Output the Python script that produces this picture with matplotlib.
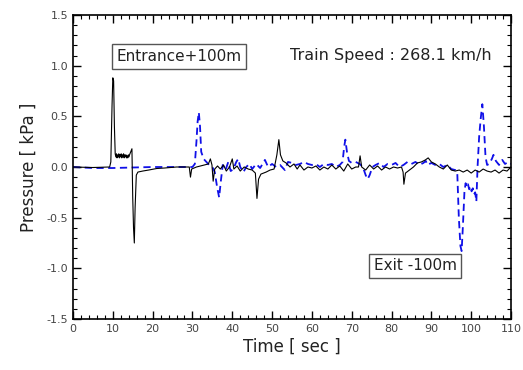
import matplotlib
matplotlib.use("Agg")
import matplotlib.pyplot as plt
from matplotlib.ticker import MultipleLocator

# Entrance +100m (black solid): (time s, pressure kPa)
entrance_points = [
    (0, 0.0), (5, -0.005), (9.2, 0.0), (9.5, 0.05), (9.8, 0.6), (10.0, 0.88), (10.2, 0.85),
    (10.4, 0.4), (10.6, 0.13), (10.75, 0.1), (10.9, 0.13), (11.05, 0.09), (11.2, 0.12),
    (11.35, 0.1), (11.5, 0.13), (11.65, 0.09), (11.8, 0.12), (11.95, 0.1), (12.1, 0.13),
    (12.25, 0.09), (12.4, 0.12), (12.55, 0.1), (12.7, 0.13), (12.85, 0.09), (13.0, 0.12),
    (13.15, 0.1), (13.3, 0.12), (13.45, 0.09), (13.6, 0.11), (13.75, 0.09), (13.9, 0.12),
    (14.05, 0.1), (14.2, 0.12), (14.5, 0.15), (14.8, 0.18), (15.0, -0.3), (15.2, -0.6),
    (15.4, -0.75), (15.6, -0.4), (15.9, -0.08), (16.3, -0.05), (17.5, -0.04), (19, -0.03),
    (21, -0.015), (23, -0.01), (26, 0.0), (29.2, 0.0), (29.5, -0.1), (29.8, -0.02),
    (31, 0.0), (32, 0.01), (33, 0.02), (34, 0.03), (34.5, 0.08), (34.9, 0.02), (35.2, -0.14),
    (35.6, -0.02), (36.3, 0.01), (37, -0.02), (37.8, 0.02), (38.5, -0.04), (39.3, 0.0),
    (40.0, 0.08), (40.4, -0.02), (41.2, 0.01), (42, -0.04), (43, 0.0), (44, -0.02),
    (45, -0.03), (45.8, -0.06), (46.2, -0.31), (46.6, -0.12), (47.2, -0.07), (48.5, -0.05),
    (49.5, -0.03), (50.5, -0.02), (51.2, 0.12), (51.7, 0.27), (52.1, 0.12), (52.7, 0.06),
    (53.5, 0.04), (54.5, 0.0), (55.5, 0.03), (56.3, -0.02), (57, 0.02), (58, -0.03),
    (59, 0.0), (60, -0.01), (61, 0.01), (62, -0.03), (63, 0.0), (64, -0.02), (65, 0.02),
    (66, -0.02), (67, 0.01), (68, -0.04), (69, 0.03), (70, -0.02), (71, 0.0), (71.7, 0.0),
    (72.1, 0.11), (72.5, 0.0), (73.5, -0.03), (74.5, 0.02), (75.5, -0.02), (76.5, 0.01),
    (77.5, -0.03), (78.5, 0.0), (79.5, -0.02), (80.5, 0.0), (81.5, -0.01), (82.5, 0.0),
    (82.9, -0.05), (83.1, -0.17), (83.5, -0.06), (84.5, -0.03), (85.5, 0.0), (86.5, 0.04),
    (87.5, 0.05), (88.5, 0.07), (89.2, 0.09), (90, 0.05), (91, 0.03), (92, 0.0),
    (93, -0.02), (94, 0.02), (95, -0.03), (96, -0.04), (97, -0.03), (98, -0.05), (99, -0.03),
    (100, -0.06), (101, -0.03), (102, -0.05), (103, -0.02), (104, -0.04), (105, -0.05),
    (106, -0.03), (107, -0.06), (108, -0.03), (109, -0.04), (110, 0.0),
]

# Exit -100m (blue dashed): (time s, pressure kPa)
exit_points = [
    (0, 0.0), (5, -0.01), (10, -0.01), (15, -0.005), (20, 0.0), (25, 0.0), (30, 0.0),
    (30.6, 0.03), (31.0, 0.25), (31.3, 0.45), (31.6, 0.54), (31.9, 0.4), (32.2, 0.15),
    (32.8, 0.08), (33.5, 0.05), (34.2, 0.02), (35, 0.0), (35.6, -0.05), (36.2, -0.2),
    (36.7, -0.30), (37.1, -0.15), (37.6, 0.02), (38.3, -0.03), (39.0, 0.05), (39.6, -0.04),
    (40.3, -0.02), (41.0, 0.05), (41.5, 0.08), (42, 0.0), (42.8, -0.05), (43.5, 0.0),
    (44.3, 0.03), (45, -0.02), (46, 0.03), (47, -0.01), (48.2, 0.07), (49, 0.0), (50, 0.03),
    (51, 0.0), (52, 0.02), (53.2, -0.03), (54, 0.05), (55, 0.04), (56, 0.02), (57, 0.03),
    (58, 0.05), (59, 0.03), (60, 0.02), (61, 0.03), (62, 0.0), (63, 0.03), (64, 0.02),
    (65, 0.03), (66, 0.0), (67, 0.02), (67.7, 0.05), (68.1, 0.2), (68.4, 0.27), (68.8, 0.15),
    (69.3, 0.06), (70, 0.04), (71, 0.05), (72, 0.03), (72.8, 0.0), (73.5, -0.08),
    (74.0, -0.12), (74.5, -0.08), (75.2, 0.0), (76, 0.02), (77, 0.04), (78, 0.0), (79, 0.03),
    (80, 0.02), (81, 0.04), (82, 0.0), (83, 0.02), (84, 0.05), (85, 0.03), (86, 0.05),
    (87, 0.02), (88, 0.04), (88.6, 0.06), (89, 0.02), (90, 0.04), (91, 0.02), (92, 0.03),
    (93, 0.0), (94, 0.02), (95, -0.02), (96, -0.03), (96.5, -0.05), (96.9, -0.5),
    (97.3, -0.78), (97.6, -0.83), (97.9, -0.6), (98.3, -0.25), (98.6, -0.16), (98.9, -0.2),
    (99.2, -0.17), (99.5, -0.22), (99.8, -0.19), (100.1, -0.24), (100.4, -0.21),
    (100.7, -0.27), (101.0, -0.25), (101.3, -0.34), (101.6, 0.0), (102.0, 0.3),
    (102.4, 0.48), (102.8, 0.62), (103.2, 0.4), (103.6, 0.1), (104.0, 0.02), (104.5, 0.03),
    (105.2, 0.08), (105.6, 0.12), (106.2, 0.06), (107, 0.02), (107.8, 0.07), (108.5, 0.03),
    (109.3, 0.05), (110, 0.03),
]

x_range = (0, 110)
y_range = (-1.5, 1.5)

plt.rcParams['font.family'] = ['DejaVu Sans']

fig = plt.figure(figsize=(5.23, 3.70), dpi=100)
ax = fig.add_axes([73 / 523, 51 / 370, 438 / 523, 304 / 370])

et, ep = zip(*entrance_points)
xt, xp = zip(*exit_points)
ax.plot(et, ep, color='black', lw=0.8, zorder=3)
ax.plot(xt, xp, color='#1010e8', lw=1.3, dashes=(4, 2.5), zorder=2)

ax.set_xlim(*x_range)
ax.set_ylim(*y_range)
ax.xaxis.set_major_locator(MultipleLocator(10))
ax.xaxis.set_minor_locator(MultipleLocator(2))
ax.yaxis.set_major_locator(MultipleLocator(0.5))
ax.yaxis.set_minor_locator(MultipleLocator(0.1))
ax.yaxis.set_major_formatter(plt.FuncFormatter(lambda v, p: f"{v:.1f}"))
ax.tick_params(which='both', direction='in', top=True, right=True, colors='black',
               labelcolor='#444444', labelsize=8)
ax.tick_params(which='major', length=6, width=1.0)
ax.tick_params(which='minor', length=3, width=0.8)
for s in ax.spines.values():
    s.set_linewidth(1.2)

ax.set_xlabel('Time [ sec ]', fontsize=12, color='#222222', labelpad=3)
ax.set_ylabel('Pressure [ kPa ]', fontsize=12, color='#222222', labelpad=6)

box = dict(boxstyle='square,pad=0.3', fc='white', ec='#555555', lw=1.0)
ax.text(26.6, 1.09, 'Entrance+100m', fontsize=11, ha='center', va='center',
        color='#222222', bbox=box, zorder=5)
ax.text(85.9, -0.975, 'Exit -100m', fontsize=11, ha='center', va='center',
        color='#222222', bbox=box, zorder=5)
ax.text(79.7, 1.1, 'Train Speed : 268.1 km/h', fontsize=11.5, ha='center', va='center',
        color='#222222', zorder=5)

fig.savefig('out.png', dpi=100)
